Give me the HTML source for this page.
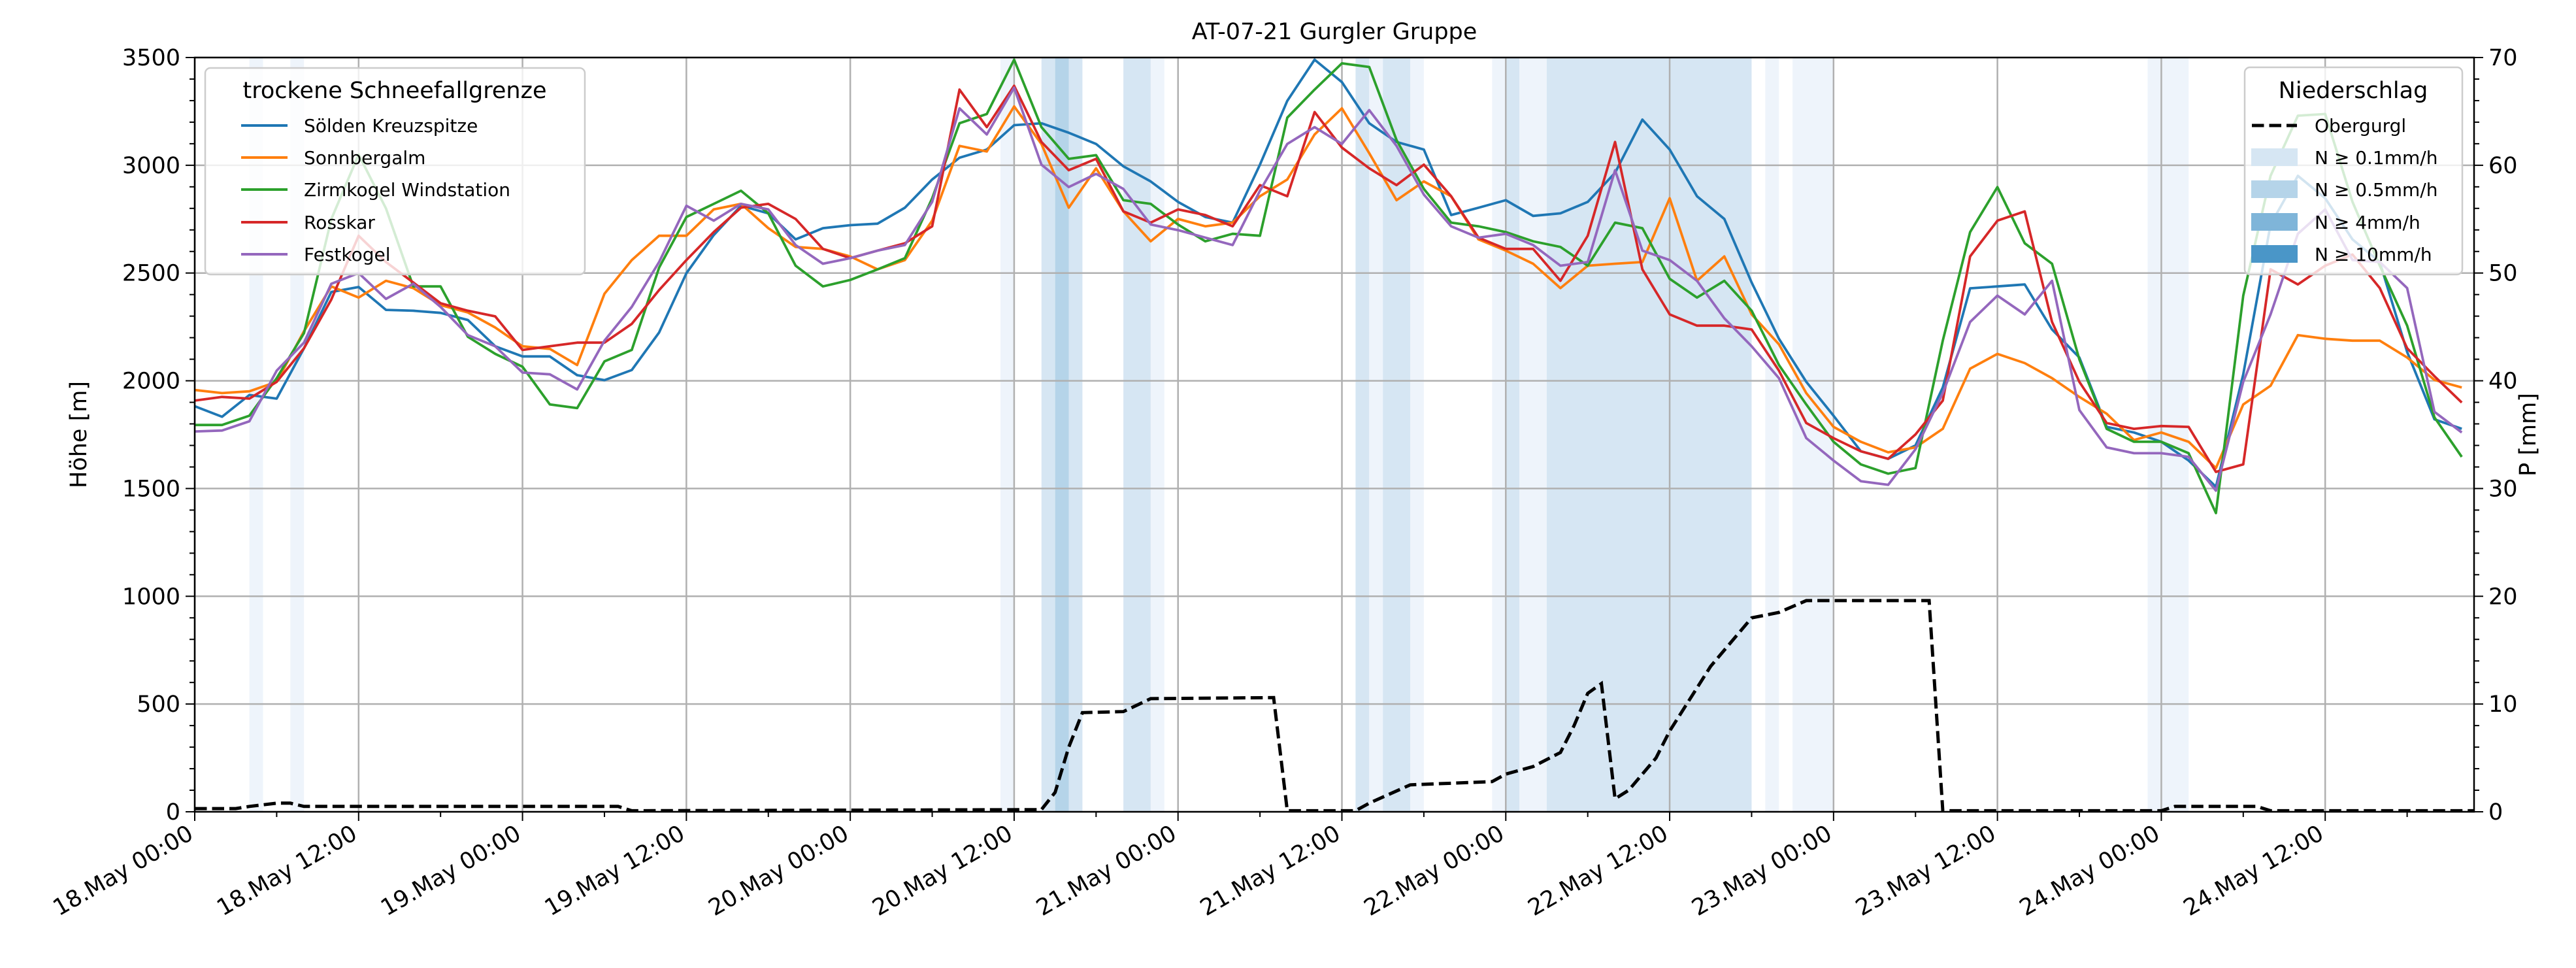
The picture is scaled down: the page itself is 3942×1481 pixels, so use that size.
<!DOCTYPE html>
<html><head><meta charset="utf-8">
<style>
html,body{margin:0;padding:0;background:#fff;}
svg{display:block;font-family:"DejaVu Sans","Liberation Sans",sans-serif;}
</style></head>
<body>
<svg id="chart" width="3942" height="1481" viewBox="0 0 3942 1481" xmlns="http://www.w3.org/2000/svg">
<rect width="3942" height="1481" fill="#fff"/>
<g id="bands"></g>
<g id="grid"></g>
<g id="series"></g>
<g id="axes"></g>
<g id="legends"></g>
</svg>
<script>
// ---- data ----
const hours = [0,2,4,6,8,10,12,14,16,18,20,22,24,26,28,30,32,34,36,38,40,42,44,46,48,50,52,54,56,58,60,62,64,66,68,70,72,74,76,78,80,82,84,86,88,90,92,94,96,98,100,102,104,106,108,110,112,114,116,118,120,122,124,126,128,130,132,134,136,138,140,142,144,146,148,150,152,154,156,158,160,162,164,166];
const soelden = [1882,1833,1934,1917,2151,2412,2435,2329,2325,2315,2282,2160,2113,2113,2026,2003,2050,2224,2499,2676,2812,2777,2656,2708,2722,2729,2803,2934,3035,3073,3186,3195,3151,3099,2995,2925,2830,2760,2734,3003,3299,3490,3386,3195,3108,3073,2769,2803,2838,2765,2777,2830,2965,3212,3073,2856,2751,2456,2195,1995,1838,1673,1638,1700,1969,2429,2438,2447,2238,2108,1786,1760,1717,1630,1508,2030,2725,2951,2847,2656,2551,2134,1821,1777];
const sonnberg = [1957,1943,1951,1995,2230,2438,2386,2464,2430,2351,2317,2247,2160,2148,2073,2404,2560,2673,2673,2795,2821,2708,2621,2612,2577,2517,2560,2743,3090,3064,3273,3099,2803,2986,2786,2647,2751,2717,2734,2856,2934,3143,3264,3056,2838,2925,2856,2656,2604,2543,2430,2534,2543,2551,2847,2464,2577,2308,2169,1943,1786,1717,1668,1691,1777,2056,2125,2082,2012,1925,1847,1725,1760,1717,1595,1890,1977,2212,2195,2186,2186,2108,2004,1969];
const zirmkogel = [1795,1795,1838,2012,2221,2750,3050,2800,2438,2438,2204,2125,2065,1890,1873,2090,2143,2525,2760,2821,2882,2777,2534,2438,2468,2517,2569,2847,3195,3238,3490,3177,3030,3047,2838,2821,2725,2647,2682,2673,3221,3351,3473,3456,3117,2890,2734,2717,2690,2647,2621,2534,2734,2708,2473,2386,2464,2325,2073,1890,1717,1612,1569,1595,2186,2690,2899,2638,2543,2099,1777,1717,1717,1664,1386,2395,2951,3230,3238,2830,2534,2256,1830,1647];
const rosskar = [1908,1925,1917,1995,2151,2377,2673,2551,2456,2360,2325,2299,2143,2160,2177,2177,2264,2421,2560,2690,2803,2821,2751,2612,2569,2604,2638,2717,3351,3177,3369,3108,2977,3030,2786,2734,2795,2769,2717,2908,2856,3247,3082,2986,2908,3003,2856,2664,2612,2612,2464,2673,3108,2517,2308,2256,2256,2238,2047,1804,1734,1673,1638,1751,1908,2577,2743,2786,2273,1995,1804,1777,1790,1786,1577,1612,2517,2447,2534,2586,2430,2151,2021,1899];
const festkogel = [1765,1769,1812,2047,2177,2450,2500,2380,2450,2343,2212,2160,2038,2030,1960,2186,2343,2551,2812,2743,2821,2795,2630,2543,2569,2604,2630,2830,3264,3143,3360,3003,2899,2960,2890,2725,2699,2664,2630,2882,3099,3177,3099,3256,3090,2864,2717,2664,2682,2630,2534,2551,2977,2604,2560,2464,2290,2160,2012,1734,1630,1534,1517,1682,1943,2273,2395,2308,2464,1864,1691,1664,1664,1647,1490,1995,2308,2682,2795,2560,2551,2430,1856,1760];
const precipHours = [0,3,4,6,7,8,31,32,62,63,64,65,68,70,79,80,85,86,89,95,96,98,100,101,102,103,104,105,107,108,110,111,113,114,116,118,127,128,144,145,151,152,167];
const precipValues = [0.3,0.3,0.5,0.8,0.8,0.5,0.5,0.1,0.2,1.8,6.0,9.2,9.3,10.5,10.6,0.1,0.1,0.8,2.5,2.8,3.5,4.2,5.5,8.0,11.0,11.9,1.2,2.0,5.0,7.5,11.5,13.5,16.5,18.0,18.5,19.6,19.6,0.1,0.1,0.5,0.5,0.1,0.1];
const bandStart = [4,7,59,62,63,64,68,70,85,86,87,89,95,96,97,99,115,117,143];
const bandEnd   = [5,8,60,63,64,65,70,71,86,87,89,90,96,97,99,114,116,120,146];
const bandLevel = [0,0,0,1,2,1,1,0,1,0,1,0,0,1,0,1,0,0,0];
const xTickLabels = ["18.May 00:00","18.May 12:00","19.May 00:00","19.May 12:00","20.May 00:00","20.May 12:00","21.May 00:00","21.May 12:00","22.May 00:00","22.May 12:00","23.May 00:00","23.May 12:00","24.May 00:00","24.May 12:00"];
const yTicks = [0,500,1000,1500,2000,2500,3000,3500];
const pTicks = [0,10,20,30,40,50,60,70];

// ---- layout ----
const L=298,R=3786,T=88,B=1242,XMAX=166.9;
const NS="http://www.w3.org/2000/svg";
const xs=h=>L+(R-L)*h/XMAX;
const ys=v=>B-(B-T)*v/3500;
const yp=v=>B-(B-T)*v/70;
function el(tag,attrs,parent){const e=document.createElementNS(NS,tag);for(const k in attrs)e.setAttribute(k,attrs[k]);parent.appendChild(e);return e;}
const bands=document.getElementById('bands'),grid=document.getElementById('grid'),ser=document.getElementById('series'),axes=document.getElementById('axes'),leg=document.getElementById('legends');
const bandCols=["#eef4fb","#d6e6f3","#b5d4e9","#7fb5d9","#4a96c8"];

for(let i=0;i<bandStart.length;i++){
  const r=el('rect',{x:xs(bandStart[i]),y:T,width:xs(bandEnd[i])-xs(bandStart[i]),height:B-T,fill:bandCols[bandLevel[i]]},bands);
  
  
}
// grid
for(let i=0;i<xTickLabels.length;i++){
  const x=xs(i*12);
  const g=el('line',{x1:x,x2:x,y1:T,y2:B,stroke:"#b0b0b0","stroke-width":2.5},grid);
  
  
}
yTicks.forEach(v=>{
  const g=el('line',{x1:L,x2:R,y1:ys(v),y2:ys(v),stroke:"#b0b0b0","stroke-width":2.5},grid);
  
  
});
// series
const names=["soelden-kreuzspitze-line","sonnbergalm-line","zirmkogel-windstation-line","rosskar-line","festkogel-line"];
const data=[soelden,sonnberg,zirmkogel,rosskar,festkogel];
const cols=["#1f77b4","#ff7f0e","#2ca02c","#d62728","#9467bd"];
const clip=el('clipPath',{id:'cp'},el('defs',{},document.getElementById('chart')));
el('rect',{x:L,y:T,width:R-L,height:B-T},clip);
data.forEach((arr,si)=>{
  const d=arr.map((v,i)=>(i?'L':'M')+xs(hours[i]).toFixed(1)+' '+ys(v).toFixed(1)).join(' ');
  const p=el('path',{d:d,fill:'none',stroke:cols[si],'stroke-width':3.8,'stroke-linejoin':'round','clip-path':'url(#cp)'},ser);
  
  
});
{
  const d=precipValues.map((v,i)=>(i?'L':'M')+xs(precipHours[i]).toFixed(1)+' '+yp(v).toFixed(1)).join(' ');
  const p=el('path',{d:d,fill:'none',stroke:'#000','stroke-width':5,'stroke-dasharray':'18.5 8','clip-path':'url(#cp)'},ser);
  
  
}
// axes frame
const fr=el('rect',{x:L,y:T,width:R-L,height:B-T,fill:'none',stroke:'#000','stroke-width':2.5},axes);


// x ticks
for(let h=0;h<=XMAX;h+=6){
  const major=h%12===0;
  el('line',{x1:xs(h),x2:xs(h),y1:B,y2:B+(major?14:8),stroke:'#000','stroke-width':2},axes);
}
xTickLabels.forEach((t,i)=>{
  const x=xs(i*12);
  const tx=el('text',{x:x,y:B+40,'font-size':35,'text-anchor':'end',transform:`rotate(-30 ${x} ${B+40})`},axes);
  tx.textContent=t;
  
  
});
// y ticks left
for(let v=0;v<=3500;v+=100){
  const major=v%500===0;
  el('line',{x1:L,x2:L-(major?14:8),y1:ys(v),y2:ys(v),stroke:'#000','stroke-width':2},axes);
}
yTicks.forEach(v=>{
  const tx=el('text',{x:L-22,y:ys(v)+12,'font-size':35,'text-anchor':'end'},axes);
  tx.textContent=v;
  
  
});
// right ticks
for(let v=0;v<=70;v+=2){
  const major=v%10===0;
  el('line',{x1:R,x2:R+(major?14:8),y1:yp(v),y2:yp(v),stroke:'#000','stroke-width':2},axes);
}
pTicks.forEach(v=>{
  const tx=el('text',{x:R+22,y:yp(v)+12,'font-size':35,'text-anchor':'start'},axes);
  tx.textContent=v;
  
  
});
</script>
<svg style="position:absolute;left:0;top:0" width="3942" height="1481" font-family="DejaVu Sans, Liberation Sans, sans-serif">
<text x="2042" y="60" font-size="35" text-anchor="middle">AT-07-21 Gurgler Gruppe</text>
<text x="0" y="0" font-size="35" text-anchor="middle" transform="translate(132 665) rotate(-90)">Höhe [m]</text>
<text x="0" y="0" font-size="35" text-anchor="middle" transform="translate(3880 665) rotate(-90)">P [mm]</text>
<g>
<rect x="314" y="104" width="581" height="316" rx="8" fill="#fff" fill-opacity="0.8" stroke="#cccccc" stroke-width="2.5"/>
<text x="604" y="150" font-size="35" text-anchor="middle">trockene Schneefallgrenze</text>
<line x1="369" x2="440" y1="192" y2="192" stroke="#1f77b4" stroke-width="4"/>
<text x="465" y="202" font-size="28">Sölden Kreuzspitze</text>
<line x1="369" x2="440" y1="241" y2="241" stroke="#ff7f0e" stroke-width="4"/>
<text x="465" y="251" font-size="28">Sonnbergalm</text>
<line x1="369" x2="440" y1="290" y2="290" stroke="#2ca02c" stroke-width="4"/>
<text x="465" y="300" font-size="28">Zirmkogel Windstation</text>
<line x1="369" x2="440" y1="340" y2="340" stroke="#d62728" stroke-width="4"/>
<text x="465" y="350" font-size="28">Rosskar</text>
<line x1="369" x2="440" y1="389" y2="389" stroke="#9467bd" stroke-width="4"/>
<text x="465" y="399" font-size="28">Festkogel</text>
</g>
<g>
<rect x="3435" y="103" width="333" height="317" rx="8" fill="#fff" fill-opacity="0.8" stroke="#cccccc" stroke-width="2.5"/>
<text x="3601" y="150" font-size="35" text-anchor="middle">Niederschlag</text>
<line x1="3446" x2="3515" y1="192" y2="192" stroke="#000" stroke-width="5" stroke-dasharray="18.5 8"/>
<text x="3542" y="202" font-size="28">Obergurgl</text>
<rect x="3445" y="227" width="71" height="27" fill="#d6e6f3"/>
<text x="3542" y="251" font-size="28">N ≥ 0.1mm/h</text>
<rect x="3445" y="276" width="71" height="27" fill="#b5d4e9"/>
<text x="3542" y="300" font-size="28">N ≥ 0.5mm/h</text>
<rect x="3445" y="326" width="71" height="27" fill="#7fb5d9"/>
<text x="3542" y="350" font-size="28">N ≥ 4mm/h</text>
<rect x="3445" y="375" width="71" height="27" fill="#4a96c8"/>
<text x="3542" y="399" font-size="28">N ≥ 10mm/h</text>
</g>
</svg>
</body></html>
